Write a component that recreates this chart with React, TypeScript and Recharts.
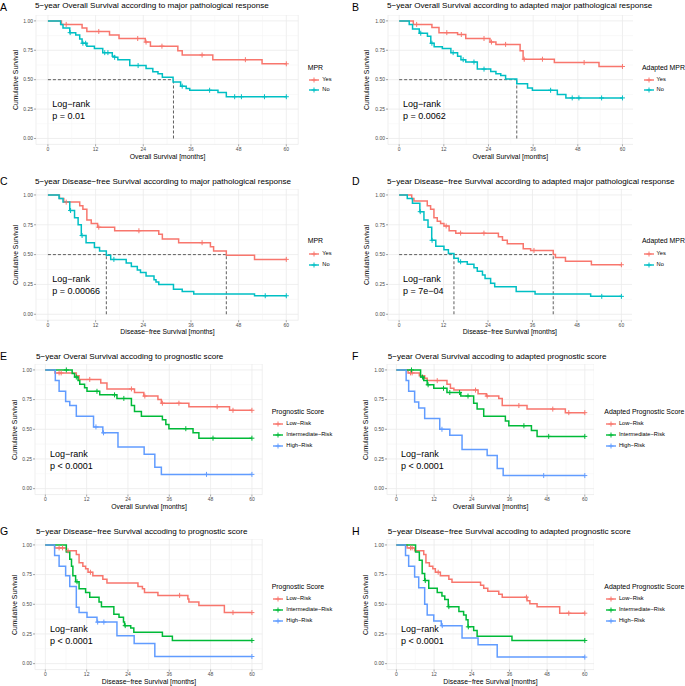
import { ComposedChart, Line, Scatter, XAxis, YAxis, CartesianGrid, ReferenceLine } from 'recharts'

const FONT = '"Liberation Sans", Arial, Helvetica, sans-serif'
const RED = '#F8766D'
const TEAL = '#00BFC4'
const GREEN = '#00BA38'
const BLUE = '#619CFF'

const xTicks = [0, 12, 24, 36, 48, 60]
const xMinor = [6, 18, 30, 42, 54]
const yTicks = [0, 0.25, 0.5, 0.75, 1]
const yMinor = [0.125, 0.375, 0.625, 0.875]

type Step = [number, number]

// A: overall survival by MPR
const aYes: Step[] = [[0, 1], [3.4, 0.97], [8.6, 0.94], [9.8, 0.91], [15.5, 0.88], [17.9, 0.85], [24.5, 0.82], [25.8, 0.785], [32.7, 0.745], [33.8, 0.71], [41.5, 0.67], [53.9, 0.635], [60, 0.635]]
const aYesCens = [4.6, 12.8, 22.6, 24.7, 28.7, 38.8, 49.7, 60]
const aNo: Step[] = [[0, 1], [3.2, 0.97], [3.8, 0.94], [5.5, 0.9], [7.0, 0.88], [8.0, 0.845], [8.6, 0.81], [9.8, 0.785], [11.7, 0.765], [13.8, 0.73], [16.2, 0.7], [16.8, 0.69], [17.6, 0.67], [20.6, 0.62], [24.7, 0.595], [26.4, 0.567], [27.7, 0.55], [28.8, 0.52], [31.5, 0.48], [33.4, 0.445], [34.8, 0.425], [35.7, 0.41], [42.8, 0.39], [44.9, 0.355], [60, 0.355]]
const aNoCens = [5.6, 8.8, 9.5, 14.3, 15.1, 16.8, 22.7, 33.8, 40.7, 47, 48.7, 54.5, 60]

// B: overall survival by adapted MPR
const bYes: Step[] = [[0, 1], [3.8, 0.97], [8.8, 0.943], [10.7, 0.9], [15.7, 0.884], [17.9, 0.85], [24.4, 0.82], [26, 0.8], [32.5, 0.745], [33.3, 0.674], [41.7, 0.646], [53.7, 0.612], [60, 0.612]]
const bYesCens = [4.7, 12.8, 16.7, 22.8, 24.8, 28.6, 33.6, 38.5, 49.7, 60]
const bNo: Step[] = [[0, 1], [2.7, 0.97], [3.6, 0.93], [5.4, 0.895], [7.6, 0.87], [8.5, 0.81], [9.4, 0.78], [11.6, 0.765], [13.9, 0.73], [15.7, 0.7], [16.6, 0.67], [17.9, 0.65], [21, 0.59], [24.6, 0.57], [26, 0.55], [27.3, 0.535], [28.6, 0.505], [31.6, 0.465], [34.5, 0.43], [35.8, 0.41], [42.5, 0.375], [44.8, 0.345], [60, 0.345]]
const bNoCens = [5.8, 8.8, 14.5, 17.2, 20.1, 22.8, 40.7, 46.5, 48.3, 54.4, 60]

// C: disease-free survival by MPR
const cYes: Step[] = [[0, 1], [2.9, 0.97], [4.0, 0.94], [8.0, 0.91], [8.8, 0.88], [9.8, 0.79], [10.9, 0.76], [12.5, 0.73], [16.8, 0.7], [27.9, 0.67], [28.8, 0.63], [32.9, 0.6], [40.9, 0.565], [41.7, 0.53], [44.9, 0.495], [52, 0.46], [60, 0.46]]
const cYesCens = [4.6, 12.8, 22.9, 38.8, 60]
const cNo: Step[] = [[0, 1], [2.8, 0.97], [3.8, 0.94], [5.5, 0.87], [6.7, 0.81], [7.6, 0.75], [8.4, 0.66], [9.6, 0.6], [11.7, 0.56], [13, 0.53], [14.7, 0.495], [15.8, 0.46], [19.7, 0.43], [21, 0.4], [22.5, 0.37], [23.3, 0.35], [24.7, 0.32], [26.7, 0.29], [27.2, 0.27], [27.9, 0.25], [31.6, 0.21], [33.8, 0.19], [36.7, 0.17], [52, 0.155], [60, 0.155]]
const cNoCens = [5.7, 8.6, 16.6, 54.7, 60]

// D: disease-free survival by adapted MPR
const dYes: Step[] = [[0, 1], [3.4, 0.97], [4.0, 0.95], [7.6, 0.91], [8.5, 0.88], [9.4, 0.81], [10.3, 0.78], [11.2, 0.76], [12.1, 0.74], [13.5, 0.7], [15.3, 0.68], [26.8, 0.65], [27.9, 0.62], [29.2, 0.59], [33.5, 0.55], [35.5, 0.535], [41.6, 0.5], [42.2, 0.475], [44.9, 0.445], [51.9, 0.415], [60, 0.415]]
const dYesCens = [12.7, 16.6, 22.9, 36.4, 60]
const dNo: Step[] = [[0, 1], [2.2, 0.97], [3.6, 0.93], [5.6, 0.86], [6.7, 0.79], [7.8, 0.73], [8.8, 0.62], [9.9, 0.57], [12.1, 0.54], [13.3, 0.51], [14.8, 0.47], [16.0, 0.44], [18.4, 0.42], [20.2, 0.39], [21.1, 0.36], [22.5, 0.33], [23.2, 0.3], [24.7, 0.26], [25.8, 0.23], [31.6, 0.19], [36.7, 0.17], [51.7, 0.15], [60, 0.15]]
const dNoCens = [5.7, 8.9, 16.6, 54.7, 60]

// E: overall survival by prognostic score
const eLow: Step[] = [[0, 1], [2.8, 0.975], [9.0, 0.95], [9.8, 0.92], [16.1, 0.89], [17.9, 0.84], [25.9, 0.81], [28.6, 0.78], [32.7, 0.75], [33.7, 0.72], [41.7, 0.69], [53.5, 0.66], [60, 0.66]]
const eLowCens = [4.0, 4.6, 12.9, 25, 28.9, 34, 38.8, 49.9, 54.5, 60]
const eInt: Step[] = [[0, 1], [7.8, 0.97], [8.5, 0.94], [9.5, 0.91], [10, 0.88], [11.4, 0.85], [12.1, 0.82], [15.8, 0.79], [20.8, 0.76], [25, 0.7], [25.9, 0.65], [27.9, 0.61], [34, 0.58], [35, 0.54], [35.9, 0.505], [42.9, 0.47], [44.6, 0.425], [60, 0.425]]
const eIntCens = [6.1, 9.0, 15, 20.1, 22.8, 40.8, 48.7, 60]
const eHigh: Step[] = [[0, 1], [2.9, 0.91], [4.0, 0.82], [5.9, 0.735], [7.1, 0.7], [9.0, 0.61], [14, 0.52], [16.7, 0.47], [21.1, 0.35], [28.7, 0.29], [31.8, 0.18], [33.7, 0.12], [60, 0.12]]
const eHighCens = [14.7, 16.9, 46.8, 60]

// F: overall survival by adapted prognostic score
const fLow: Step[] = [[0, 1], [3.7, 0.975], [7.3, 0.95], [9.0, 0.93], [9.8, 0.91], [16.1, 0.88], [17.2, 0.845], [18.3, 0.83], [26, 0.8], [28.6, 0.78], [32.6, 0.76], [33.7, 0.7], [41.6, 0.67], [53.8, 0.64], [60, 0.64]]
const fLowCens = [4.5, 5.0, 13, 25.2, 28.9, 39, 49.8, 54.9, 60]
const fInt: Step[] = [[0, 1], [7.7, 0.94], [8.7, 0.91], [9.8, 0.875], [11.9, 0.845], [16.1, 0.81], [20.5, 0.78], [24.6, 0.72], [25.7, 0.67], [27.8, 0.61], [34.7, 0.57], [35.8, 0.53], [43, 0.49], [44.8, 0.44], [60, 0.44]]
const fIntCens = [4.8, 8.3, 10.1, 15, 17, 20.1, 22.8, 40.6, 48.5, 60]
const fHigh: Step[] = [[0, 1], [3.1, 0.91], [3.9, 0.82], [5.8, 0.73], [7.1, 0.68], [9.0, 0.59], [13.8, 0.5], [17, 0.45], [20.9, 0.33], [28.9, 0.28], [32.1, 0.17], [34, 0.11], [60, 0.11]]
const fHighCens = [14.5, 46.9, 60]

// G: disease-free survival by prognostic score
const gLow: Step[] = [[0, 1], [2.7, 0.975], [6.1, 0.95], [9.0, 0.92], [9.8, 0.85], [10.9, 0.82], [11.7, 0.8], [12.4, 0.77], [13.8, 0.74], [16.7, 0.71], [17.9, 0.68], [26.9, 0.65], [28.2, 0.63], [28.8, 0.6], [32.7, 0.575], [41.4, 0.545], [41.7, 0.52], [44.6, 0.49], [52, 0.43], [60, 0.43]]
const gLowCens = [4.0, 5.0, 6.6, 13.1, 39, 54.5, 60]
const gInt: Step[] = [[0, 1], [6.1, 0.94], [7.1, 0.88], [7.6, 0.82], [8.0, 0.74], [8.8, 0.69], [9.8, 0.63], [11.7, 0.6], [12.9, 0.56], [15.6, 0.52], [16.3, 0.48], [19.9, 0.415], [21.4, 0.39], [22.7, 0.35], [23, 0.32], [24.8, 0.3], [25.7, 0.265], [34, 0.23], [36.9, 0.195], [60, 0.195]]
const gIntCens = [9.2, 23.2, 60]
const gHigh: Step[] = [[0, 1], [2.7, 0.91], [4.0, 0.82], [5.9, 0.74], [7.1, 0.65], [9.0, 0.475], [9.8, 0.43], [12.1, 0.39], [15, 0.35], [20.8, 0.235], [25.8, 0.17], [31.8, 0.06], [60, 0.06]]
const gHighCens = [15.2, 17.0, 60]

// H: disease-free survival by adapted prognostic score
const hLow: Step[] = [[0, 1], [3.4, 0.975], [5.8, 0.95], [8.7, 0.92], [9.4, 0.85], [10.5, 0.82], [11.6, 0.8], [12.4, 0.77], [14, 0.74], [16.7, 0.71], [17.7, 0.685], [26.8, 0.66], [27.8, 0.635], [29.1, 0.61], [32.6, 0.585], [33.7, 0.56], [41.6, 0.53], [42.5, 0.505], [44.8, 0.48], [52, 0.425], [60, 0.425]]
const hLowCens = [4.5, 5.0, 13.3, 41.4, 54.9, 60]
const hInt: Step[] = [[0, 1], [6.1, 0.94], [7.3, 0.87], [8.2, 0.76], [9.0, 0.7], [10.3, 0.635], [13, 0.6], [14.5, 0.57], [15.4, 0.54], [16.5, 0.48], [19.9, 0.44], [21.4, 0.41], [22.2, 0.37], [22.8, 0.31], [24.6, 0.28], [25.7, 0.23], [36.8, 0.195], [60, 0.195]]
const hIntCens = [9.2, 16.7, 22.9, 60]
const hHigh: Step[] = [[0, 1], [2.9, 0.91], [3.9, 0.82], [5.8, 0.73], [7.1, 0.64], [9.0, 0.5], [9.8, 0.41], [11.9, 0.36], [14.3, 0.32], [20.9, 0.215], [26, 0.16], [32.1, 0.055], [60, 0.055]]
const hHighCens = [14.6, 60]

const mprLabels = ['Yes', 'No']
const riskLabels = ['Low\u2212Risk', 'Intermediate\u2212Risk', 'High\u2212Risk']

interface Series {
  name: string
  color: string
  steps: Step[]
  censor: number[]
}

interface PanelCfg {
  letter: string
  title: string
  xLabel: string
  legendTitle: string
  pText: string
  medians: number[]
  series: Series[]
  // layout (page px)
  x0: number
  x60: number
  y1: number
  y0: number
  letterX: number
  titleX: number
  titleY: number
  legendX: number
  legendY: number[]
  pX: number
  pY: number
  xTitleY: number
}

const two = (a: Step[], ac: number[], b: Step[], bc: number[]): Series[] => [
  { name: mprLabels[0], color: RED, steps: a, censor: ac },
  { name: mprLabels[1], color: TEAL, steps: b, censor: bc },
]
const three = (a: Step[], ac: number[], b: Step[], bc: number[], c: Step[], cc: number[]): Series[] => [
  { name: riskLabels[0], color: RED, steps: a, censor: ac },
  { name: riskLabels[1], color: GREEN, steps: b, censor: bc },
  { name: riskLabels[2], color: BLUE, steps: c, censor: cc },
]

const OS = 'Overall Survival [months]'
const DFS = 'Disease\u2212free Survival [months]'

const panels: PanelCfg[] = [
  {
    letter: 'A', title: '5\u2212year Overall Survival according to major pathological response', xLabel: OS,
    legendTitle: 'MPR', pText: 'p = 0.01', medians: [31.6], series: two(aYes, aYesCens, aNo, aNoCens),
    x0: 48.3, x60: 286.7, y1: 20.7, y0: 138.3, letterX: 0, titleX: 35, titleY: 6,
    legendX: 307.7, legendY: [67.5, 79.5, 90], pX: 52.3, pY: 104, xTitleY: 156.5,
  },
  {
    letter: 'B', title: '5\u2212year Overall Survival according to adapted major pathological response', xLabel: OS,
    legendTitle: 'Adapted MPR', pText: 'p = 0.0062', medians: [31.6], series: two(bYes, bYesCens, bNo, bNoCens),
    x0: 398.7, x60: 622, y1: 20.7, y0: 138.3, letterX: 352, titleX: 387, titleY: 6,
    legendX: 642, legendY: [67.5, 79.5, 90], pX: 403, pY: 104, xTitleY: 156.5,
  },
  {
    letter: 'C', title: '5\u2212year Disease\u2212free Survival according to major pathological response', xLabel: DFS,
    legendTitle: 'MPR', pText: 'p = 0.00066', medians: [44.9, 14.7], series: two(cYes, cYesCens, cNo, cNoCens),
    x0: 48.3, x60: 286.7, y1: 195, y0: 314.3, letterX: 0, titleX: 35, titleY: 182.3,
    legendX: 307.7, legendY: [241, 254, 265], pX: 52.3, pY: 279, xTitleY: 331.7,
  },
  {
    letter: 'D', title: '5\u2212year Disease\u2212free Survival according to adapted major pathological response', xLabel: DFS,
    legendTitle: 'Adapted MPR', pText: 'p = 7e\u221204', medians: [41.6, 14.8], series: two(dYes, dYesCens, dNo, dNoCens),
    x0: 398.7, x60: 621, y1: 195, y0: 314.3, letterX: 352, titleX: 387, titleY: 182.3,
    legendX: 642, legendY: [241, 254, 265], pX: 403, pY: 279, xTitleY: 331.7,
  },
  {
    letter: 'E', title: '5\u2212year Overal Survival accoding to prognostic score', xLabel: OS,
    legendTitle: 'Prognostic Score', pText: 'p < 0.0001', medians: [], series: three(eLow, eLowCens, eInt, eIntCens, eHigh, eHighCens),
    x0: 45.7, x60: 252.3, y1: 370.3, y0: 489, letterX: 0, titleX: 36, titleY: 357.3,
    legendX: 271.7, legendY: [412.3, 424, 434.7, 446], pX: 50, pY: 454, xTitleY: 506.7,
  },
  {
    letter: 'F', title: '5\u2212year Overal Survival accoding to adapted prognostic score', xLabel: OS,
    legendTitle: 'Adapted Prognostic Score', pText: 'p < 0.0001', medians: [], series: three(fLow, fLowCens, fInt, fIntCens, fHigh, fHighCens),
    x0: 396.3, x60: 584.7, y1: 370.3, y0: 489, letterX: 352, titleX: 387.7, titleY: 357.3,
    legendX: 604.3, legendY: [412.3, 424, 434.7, 446], pX: 401, pY: 454, xTitleY: 506.7,
  },
  {
    letter: 'G', title: '5\u2212year Disease\u2212free Survival accoding to prognostic score', xLabel: DFS,
    legendTitle: 'Prognostic Score', pText: 'p < 0.0001', medians: [], series: three(gLow, gLowCens, gInt, gIntCens, gHigh, gHighCens),
    x0: 45.7, x60: 252.3, y1: 545.3, y0: 664, letterX: 0, titleX: 36, titleY: 532.3,
    legendX: 271.7, legendY: [587.3, 599, 609.7, 621], pX: 50, pY: 629, xTitleY: 681.7,
  },
  {
    letter: 'H', title: '5\u2212year Disease\u2212free Survival accoding to adapted prognostic score', xLabel: DFS,
    legendTitle: 'Adapted Prognostic Score', pText: 'p < 0.0001', medians: [], series: three(hLow, hLowCens, hInt, hIntCens, hHigh, hHighCens),
    x0: 396.3, x60: 584.7, y1: 545.3, y0: 664, letterX: 352, titleX: 387.7, titleY: 532.3,
    legendX: 604.3, legendY: [587.3, 599, 609.7, 621], pX: 401, pY: 629, xTitleY: 681.7,
  },
]

const YW = 36
const XH = 10

function survAt(steps: Step[], t: number) {
  let s = 1
  for (const [tt, ss] of steps) if (tt <= t) s = ss
  return s
}

const plusShape = (color: string) => (props: any) => {
  const { cx, cy } = props
  if (cx == null || cy == null) return <g />
  return <path d={`M${cx - 2.5},${cy}h5M${cx},${cy - 2.5}v5`} stroke={color} strokeWidth={1} fill="none" />
}

const abs = (left: number, top: number, extra: React.CSSProperties = {}): React.CSSProperties => ({
  position: 'absolute',
  left,
  top,
  whiteSpace: 'nowrap',
  lineHeight: 1,
  transform: 'translateY(-50%)',
  ...extra,
})

function KMPanel({ p }: { p: PanelCfg }) {
  const sx = (p.x60 - p.x0) / 60
  const sy = p.y0 - p.y1
  const plotLeft = p.x0 - 3 * sx
  const plotTop = p.y1 - 0.05 * sy
  const w = 66 * sx
  const h = 1.1 * sy
  const maxMedian = p.medians.length ? Math.max(...p.medians) : 0
  const dash = { stroke: '#4d4d4d', strokeWidth: 0.9, strokeDasharray: '3 2' }

  return (
    <>
      <div style={abs(p.letterX, Math.max(p.titleY - 1, 6.5), { fontSize: 10.5 })}>{p.letter}</div>
      <div style={abs(p.titleX, p.titleY, { fontSize: 8.1 })}>{p.title}</div>
      <div
        style={{
          position: 'absolute', left: plotLeft - 20.5, top: plotTop + h / 2, whiteSpace: 'nowrap', lineHeight: 1,
          fontSize: 6.8, transform: 'translate(-50%,-50%) rotate(-90deg)',
        }}
      >
        Cumulative Survival
      </div>
      <div
        style={{
          position: 'absolute', left: plotLeft + w / 2, top: p.xTitleY, whiteSpace: 'nowrap', lineHeight: 1,
          fontSize: 6.8, transform: 'translate(-50%,-50%)',
        }}
      >
        {p.xLabel}
      </div>
      <div style={{ position: 'absolute', left: plotLeft - YW, top: plotTop }}>
        <ComposedChart width={w + YW} height={h + XH} margin={{ top: 0, right: 0, bottom: 0, left: 0 }}>
          <CartesianGrid stroke="#ebebeb" strokeWidth={0.8} />
          {xMinor.map(v => (
            <ReferenceLine key={'xm' + v} x={v} stroke="#f2f2f2" strokeWidth={0.5} />
          ))}
          {yMinor.map(v => (
            <ReferenceLine key={'ym' + v} y={v} stroke="#f2f2f2" strokeWidth={0.5} />
          ))}
          <XAxis
            dataKey="t" type="number" domain={[-3, 63]} ticks={xTicks} interval={0} allowDataOverflow
            height={XH} axisLine={false} tickSize={2} tickMargin={1}
            tickLine={{ stroke: '#4d4d4d', strokeWidth: 0.5 }}
            tick={{ fontSize: 5, fill: '#4d4d4d', fontFamily: FONT }}
          />
          <YAxis
            dataKey="s" type="number" domain={[-0.05, 1.05]} ticks={yTicks} interval={0} allowDataOverflow
            width={YW} axisLine={false} tickSize={2} tickMargin={1}
            tickLine={{ stroke: '#4d4d4d', strokeWidth: 0.5 }}
            tick={{ fontSize: 5, fill: '#4d4d4d', fontFamily: FONT }}
            tickFormatter={(v: number) => v.toFixed(2)}
          />
          {p.medians.length > 0 && (
            <ReferenceLine segment={[{ x: 0, y: 0.5 }, { x: maxMedian, y: 0.5 }]} {...dash} />
          )}
          {p.medians.map(m => (
            <ReferenceLine key={'md' + m} segment={[{ x: m, y: 0 }, { x: m, y: 0.5 }]} {...dash} />
          ))}
          {p.series.map(s => (
            <Line
              key={'l' + s.name}
              data={s.steps.map(([t, v]) => ({ t, s: v }))}
              dataKey="s"
              type="stepAfter"
              stroke={s.color}
              strokeWidth={1.5}
              dot={false}
              activeDot={false}
              isAnimationActive={false}
            />
          ))}
          {p.series.map(s => (
            <Scatter
              key={'c' + s.name}
              data={s.censor.map(t => ({ t, s: survAt(s.steps, t) }))}
              dataKey="s"
              fill={s.color}
              shape={plusShape(s.color)}
              isAnimationActive={false}
            />
          ))}
        </ComposedChart>
      </div>
      <div style={abs(p.pX, p.pY, { fontSize: 9 })}>Log{'\u2212'}rank</div>
      <div style={abs(p.pX, p.pY + 11.7, { fontSize: 9 })}>{p.pText}</div>
      <div style={abs(p.legendX, p.legendY[0], { fontSize: 6.9 })}>{p.legendTitle}</div>
      {p.series.map((s, i) => (
        <div key={'lg' + s.name}>
          <svg style={abs(p.legendX + 1.6, p.legendY[i + 1])} width={10} height={6}>
            <line x1={0} y1={3} x2={10} y2={3} stroke={s.color} strokeWidth={1.4} />
            <path d="M2.5,3h5M5,0.5v5" stroke={s.color} strokeWidth={1} />
          </svg>
          <div style={abs(p.legendX + 14.6, p.legendY[i + 1], { fontSize: 5.7 })}>{s.name}</div>
        </div>
      ))}
    </>
  )
}

export default function App() {
  return (
    <div
      style={{
        position: 'absolute', left: 0, top: 0, width: 685, height: 686, background: '#fff',
        fontFamily: FONT, color: '#000', overflow: 'hidden',
      }}
    >
      {panels.map(p => (
        <KMPanel key={p.letter} p={p} />
      ))}
    </div>
  )
}
